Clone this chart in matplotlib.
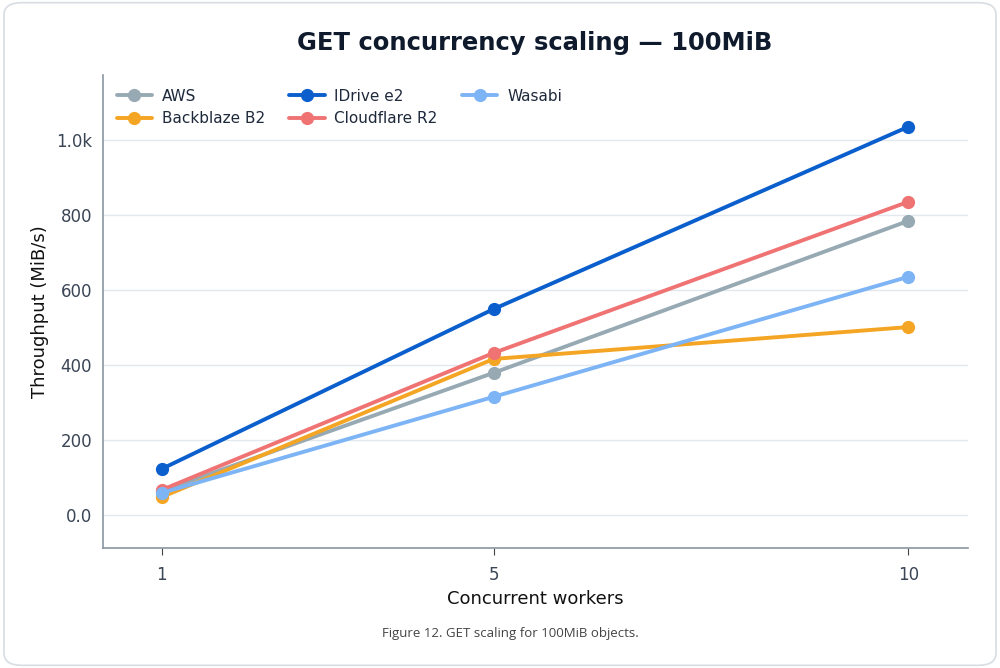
import matplotlib.pyplot as plt
from matplotlib.patches import FancyBboxPatch
from matplotlib.ticker import FuncFormatter

workers = [1, 5, 10]
aws = [64, 379, 784]
backblaze = [48, 416, 501]
idrive = [123, 549, 1035]
cloudflare = [67, 432, 835]
wasabi = [59, 315, 635]

series = [
    ("AWS", aws, "#97aab4"),
    ("Backblaze B2", backblaze, "#f5a524"),
    ("IDrive e2", idrive, "#0a5fcd"),
    ("Cloudflare R2", cloudflare, "#f07374"),
    ("Wasabi", wasabi, "#7db4f5"),
]

fig = plt.figure(figsize=[10, 6.68], dpi=100)
# rounded card behind everything
card = FancyBboxPatch((0.004, 0.004), 0.992, 0.992, boxstyle="round,pad=0,rounding_size=0.018",
                      transform=fig.transFigure, facecolor="white", edgecolor="#d8dde3", lw=1.2,
                      zorder=-10)
fig.patches.append(card)

ax = fig.add_axes([0.103, 1 - 548 / 668, 0.865, (548 - 75) / 668])
ax.set_facecolor("none")
ax.set_zorder(1)

for name, vals, col in series:
    ax.plot(workers, vals, color=col, lw=2.8, marker="o", ms=8.5, label=name, solid_capstyle="round")

ax.set_xlim(0.29, 10.72)
ax.set_ylim(-88, 1173)
ax.set_xticks(workers)
ax.set_yticks([0, 200, 400, 600, 800, 1000])


def fmt(v, pos):
    if v >= 1000:
        return f"{v / 1000:.1f}k"
    if v == 0:
        return "0.0"
    return f"{v:.0f}"


ax.yaxis.set_major_formatter(FuncFormatter(fmt))
ax.grid(axis="y", color="#e3e8ee", lw=1)
ax.set_axisbelow(True)
for s in ["top", "right"]:
    ax.spines[s].set_visible(False)
for s in ["left", "bottom"]:
    ax.spines[s].set_color("#8a96a3")
    ax.spines[s].set_linewidth(1.2)
ax.tick_params(axis="both", colors="#3a4556", labelsize=12, length=5, color="#444")
ax.tick_params(axis="y", length=0, pad=8)
ax.tick_params(axis="x", pad=8)

ax.set_xlabel("Concurrent workers", fontsize=13, color="#111111")
ax.set_ylabel("Throughput (MiB/s)", fontsize=13, color="#111111", labelpad=5)

ax.legend(loc="upper left", ncol=3, frameon=False, fontsize=11, handlelength=2.3,
          handletextpad=0.65, columnspacing=1.6, labelspacing=0.5, borderaxespad=0.5,
          labelcolor="#1e293b")

fig.text(0.535, 1 - 43 / 668, "GET concurrency scaling \u2014 100MiB", ha="center", va="center",
         fontsize=17.5, fontweight="bold", color="#0f1b2d")
fig.text(0.51, 1 - 633 / 668, "Figure 12. GET scaling for 100MiB objects.", ha="center", va="center",
         fontsize=9.5, color="#444444", family="Open Sans")

fig.savefig("out.png", dpi=100)
